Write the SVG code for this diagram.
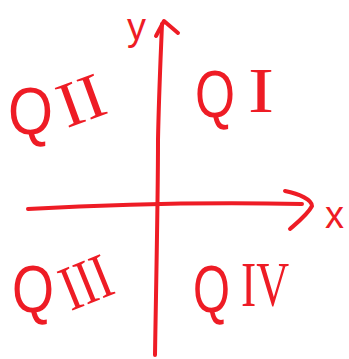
<svg xmlns="http://www.w3.org/2000/svg" width="349" height="359" viewBox="0 0 349 359">
<style>
.ln{fill:none;stroke:#ee1c25;stroke-width:4;stroke-linecap:round;stroke-linejoin:round}
.q{font-family:"Liberation Sans",Arial,sans-serif;font-size:66px;fill:#ee1c25}
.n{font-family:"Liberation Serif","Times New Roman",serif;font-size:64px;fill:#ee1c25}
.ax{font-family:"Liberation Sans",Arial,sans-serif;font-size:38px;fill:#ee1c25}
</style>
<rect width="349" height="359" fill="#fff"/>
<g id="connectors">
<path id="y-axis" class="ln" d="M155 355 C156 290 158 200 158 140 C159 90 161 50 162 24"/>
<path id="y-arrow" class="ln" d="M156 36 L164 21 L178 33"/>
<path id="x-axis" class="ln" d="M28 209 C100 205 200 202 302 204"/>
<path id="x-arrow" class="ln" d="M285 191 C300 194 312 200 312 206 C308 214 298 222 290 229"/>
</g>
<g id="label-y"><text class="ax" x="127" y="40">y</text></g>
<g id="label-x"><text class="ax" x="325" y="228">x</text></g>
<g id="QII"><text class="q" x="8" y="134" textLength="45" lengthAdjust="spacingAndGlyphs">Q</text><text class="n" x="58" y="122" textLength="46" lengthAdjust="spacingAndGlyphs" transform="rotate(-20 80 100)">II</text></g>
<g id="QI"><text class="q" x="195" y="117" textLength="40" lengthAdjust="spacingAndGlyphs">Q</text><text class="n" x="248" y="112" font-size="70" textLength="26" lengthAdjust="spacingAndGlyphs">I</text></g>
<g id="QIII"><text class="q" x="12" y="312" textLength="42" lengthAdjust="spacingAndGlyphs">Q</text><text class="n" x="62" y="304" textLength="50" lengthAdjust="spacingAndGlyphs" transform="rotate(-22 85 285)">III</text></g>
<g id="QIV"><text class="q" x="193" y="312" textLength="37" lengthAdjust="spacingAndGlyphs">Q</text><text class="n" x="241" y="306" textLength="48" lengthAdjust="spacingAndGlyphs">IV</text></g>
</svg>
